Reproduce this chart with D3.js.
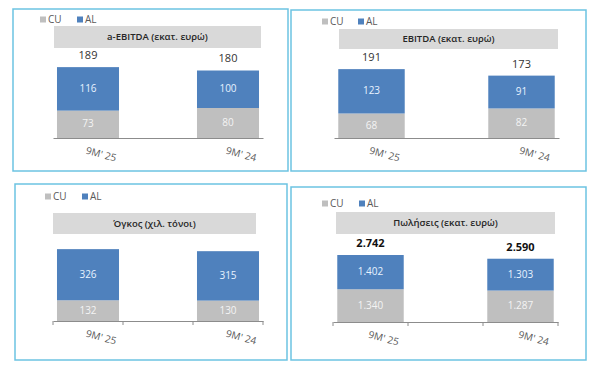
<!DOCTYPE html>
<html>
<head>
<meta charset="utf-8">
<script src="https://cdn.jsdelivr.net/npm/d3@7"></script>
<style>
  html, body { margin: 0; padding: 0; background: #ffffff; }
  svg { display: block; font-family: "Open Sans", "Noto Sans", sans-serif; }
</style>
</head>
<body>
<svg id="chart" width="600" height="376"></svg>
<script>
// ---------------- DATA ----------------
const categories = ["9M' 25", "9M' 24"];
const seriesNames = ["CU", "AL"];
const panelTitles = ["a-EBITDA (εκατ. ευρώ)", "EBITDA (εκατ. ευρώ)", "Όγκος (χιλ. τόνοι)", "Πωλήσεις (εκατ. ευρώ)"];
const cuValues = [[73, 80], [68, 82], [132, 130], [1340, 1287]];
const alValues = [[116, 100], [123, 91], [326, 315], [1402, 1303]];
const totalLabels = [[189, 180], [191, 173], null, [2742, 2590]];
const yMax = [200, 208, 478, 3070];

// ---------------- LAYOUT ----------------
const layout = [
  { box: [13, 9, 288, 171], legY: 20, legX: [40, 77], title: [54, 26, 261, 48], axis: [53, 263], base: 138, ticks: false, boldTotals: false },
  { box: [291, 10, 586, 171], legY: 22, legX: [322, 358], title: [339, 29, 558, 49], axis: [334, 559], base: 138, ticks: false, boldTotals: false },
  { box: [15, 184, 287, 360], legY: 197, legX: [45, 82], title: [53, 213, 256, 234], axis: [53, 263], base: 321, ticks: true, boldTotals: false },
  { box: [291, 187, 586, 360], legY: 204, legX: [322, 359], title: [336, 212, 555, 234], axis: [333, 558], base: 322, ticks: true, boldTotals: true }
];
const plotH = 75;
const colors = { CU: "#bfbfbf", AL: "#4f81bd" };
const fmt = d3.formatLocale({ decimal: ",", thousands: ".", grouping: [3], currency: ["", "€"] }).format(",d");

const svg = d3.select("#chart");

layout.forEach((L, i) => {
  const g = svg.append("g");

  // border
  g.append("rect")
    .attr("x", L.box[0]).attr("y", L.box[1])
    .attr("width", L.box[2] - L.box[0]).attr("height", L.box[3] - L.box[1])
    .attr("fill", "none").attr("stroke", "#6cc3e2").attr("stroke-width", 1.5);

  // legend
  seriesNames.forEach((s, k) => {
    g.append("rect")
      .attr("x", L.legX[k]).attr("y", L.legY - 3.5)
      .attr("width", 6).attr("height", 6)
      .attr("fill", colors[s]);
    g.append("text")
      .attr("x", L.legX[k] + 8).attr("y", L.legY)
      .attr("dominant-baseline", "middle")
      .attr("font-size", 10).attr("fill", "#595959")
      .text(s);
  });

  // title band
  g.append("rect")
    .attr("x", L.title[0]).attr("y", L.title[1])
    .attr("width", L.title[2] - L.title[0]).attr("height", L.title[3] - L.title[1])
    .attr("fill", "#d9d9d9");
  g.append("text")
    .attr("x", (L.title[0] + L.title[2]) / 2).attr("y", (L.title[1] + L.title[3]) / 2 + 0.5)
    .attr("text-anchor", "middle").attr("dominant-baseline", "middle")
    .attr("font-size", 9.5).attr("font-weight", 600).attr("fill", "#262626")
    .text(panelTitles[i]);

  // scales
  const domain = [categories[0], "__gap__", categories[1]];
  const x = d3.scaleBand().domain(domain).range(L.axis).paddingInner(0.114).paddingOuter(0.057);
  const y = d3.scaleLinear().domain([0, yMax[i]]).range([L.base, L.base - plotH]);

  // bars
  categories.forEach((c, j) => {
    const cu = cuValues[i][j], al = alValues[i][j];
    g.append("rect")
      .attr("x", x(c)).attr("width", x.bandwidth())
      .attr("y", y(cu)).attr("height", y(0) - y(cu))
      .attr("fill", colors.CU);
    g.append("rect")
      .attr("x", x(c)).attr("width", x.bandwidth())
      .attr("y", y(cu + al)).attr("height", y(cu) - y(cu + al))
      .attr("fill", colors.AL);
    const cx = x(c) + x.bandwidth() / 2;
    g.append("text")
      .attr("x", cx).attr("y", (y(0) + y(cu)) / 2 + 0.5)
      .attr("text-anchor", "middle").attr("dominant-baseline", "middle")
      .attr("font-size", 10).attr("fill", "#f4f4f4")
      .text(fmt(cu));
    g.append("text")
      .attr("x", cx).attr("y", (y(cu) + y(cu + al)) / 2 + 0.5)
      .attr("text-anchor", "middle").attr("dominant-baseline", "middle")
      .attr("font-size", 10).attr("fill", "#e8f3ff")
      .text(fmt(al));
    if (totalLabels[i]) {
      g.append("text")
        .attr("x", cx).attr("y", y(cu + al) - 11)
        .attr("text-anchor", "middle").attr("dominant-baseline", "middle")
        .attr("font-size", 11)
        .attr("font-weight", L.boldTotals ? 700 : 400)
        .attr("fill", L.boldTotals ? "#111111" : "#333333")
        .text(fmt(totalLabels[i][j]));
    }
  });

  // x axis
  const axis = d3.axisBottom(x).tickValues(categories).tickSize(0).tickSizeOuter(0);
  const ax = g.append("g").attr("transform", `translate(0,${L.base})`).call(axis);
  ax.select(".domain").attr("stroke", "#8c8c8c").attr("stroke-width", 1);
  ax.selectAll(".tick text")
    .attr("x", 0).attr("y", 0).attr("dy", null)
    .attr("transform", "translate(-2,13) rotate(15)")
    .attr("text-anchor", "start").attr("dominant-baseline", "middle")
    .attr("font-family", "'Open Sans', sans-serif")
    .attr("font-size", 10).attr("fill", "#595959");

  if (L.ticks) {
    const bounds = d3.range(domain.length + 1).map(k => L.axis[0] + k * x.step());
    g.selectAll(null).data(bounds).enter().append("line")
      .attr("x1", d => d).attr("x2", d => d)
      .attr("y1", L.base).attr("y2", L.base + 4)
      .attr("stroke", "#8c8c8c").attr("stroke-width", 1);
  }
});
</script>
</body>
</html>
